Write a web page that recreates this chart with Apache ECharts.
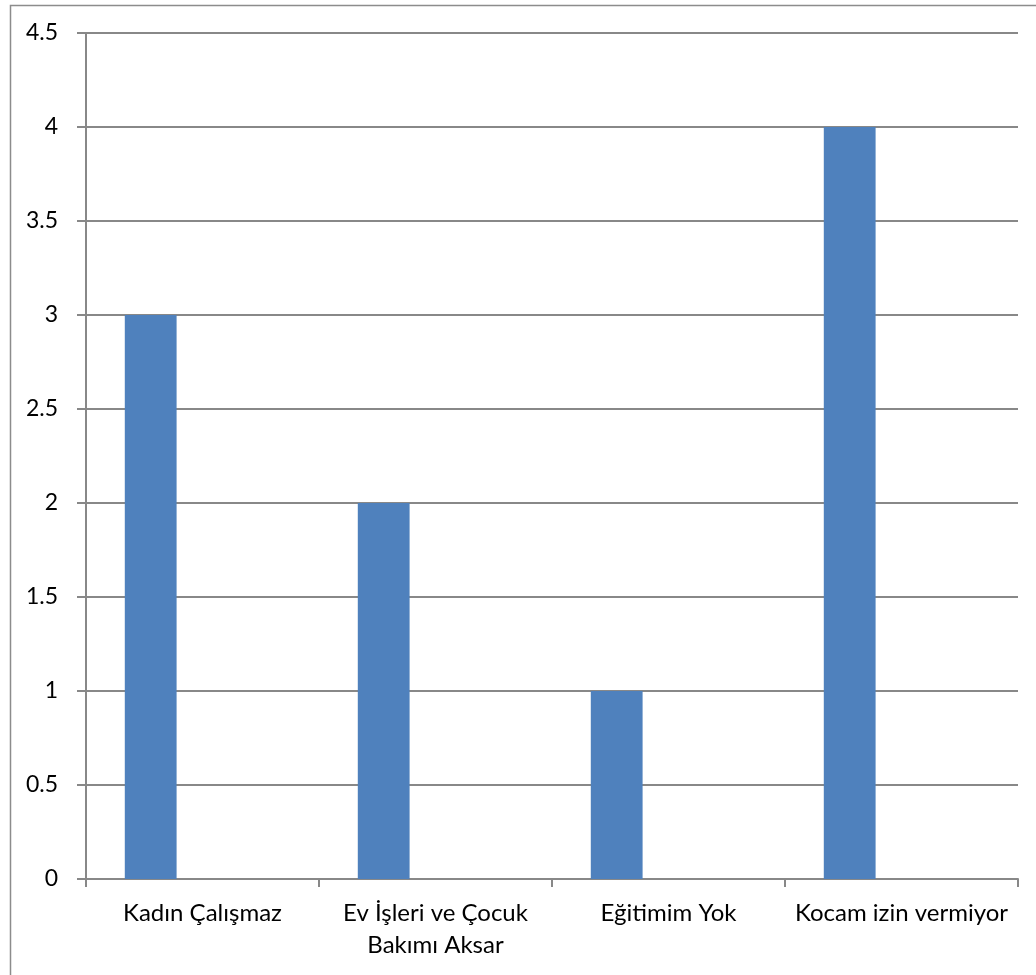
<!DOCTYPE html>
<html>
<head>
<meta charset="utf-8">
<script src="https://cdn.jsdelivr.net/npm/echarts@6/dist/echarts.min.js"></script>
<style>html,body{margin:0;padding:0;background:#fff}#c{width:1036px;height:975px}</style>
</head>
<body>
<div id="c"></div>
<script>
const categories = ["Kadın Çalışmaz", "Ev İşleri ve Çocuk\nBakımı Aksar", "Eğitimim Yok", "Kocam izin vermiyor"];
const series1 = [3, 2, 1, 4];
const series2 = [null, null, null, null];
const series3 = [null, null, null, null];
const yTicks = [0, 0.5, 1, 1.5, 2, 2.5, 3, 3.5, 4, 4.5];

const chart = echarts.init(document.getElementById('c'), null, {renderer: 'canvas'});
const font = 'Lato, "Open Sans", sans-serif';
chart.setOption({
  animation: false,
  backgroundColor: '#fff',
  graphic: [{
    type: 'rect', left: 8, top: 3, silent: true,
    shape: {width: 1030, height: 975},
    style: {fill: 'none', stroke: '#8c8c8c', lineWidth: 1.5}
  }],
  grid: {left: 86, right: 18, top: 33, bottom: 96, containLabel: false},
  xAxis: {
    type: 'category',
    data: categories,
    boundaryGap: true,
    axisLine: {lineStyle: {color: '#888', width: 2}},
    axisTick: {show: true, length: 8, lineStyle: {color: '#888', width: 2}},
    axisLabel: {color: '#000', fontFamily: font, fontSize: 24, margin: 18, lineHeight: 32, interval: 0}
  },
  yAxis: {
    type: 'value', min: 0, max: 4.5, interval: 0.5,
    axisLine: {show: true, lineStyle: {color: '#888', width: 2}},
    axisTick: {show: true, length: 9, lineStyle: {color: '#888', width: 2}},
    splitLine: {show: true, lineStyle: {color: '#888', width: 2}},
    axisLabel: {color: '#000', fontFamily: font, fontSize: 23, margin: 28,
      formatter: v => yTicks.includes(v) ? String(v) : ''}
  },
  series: [
    {type: 'bar', data: series1, itemStyle: {color: '#4F81BD'}, barGap: '0%', barCategoryGap: '33.3%'},
    {type: 'bar', data: series2, itemStyle: {color: '#C0504D'}},
    {type: 'bar', data: series3, itemStyle: {color: '#9BBB59'}}
  ]
});
</script>
</body>
</html>
